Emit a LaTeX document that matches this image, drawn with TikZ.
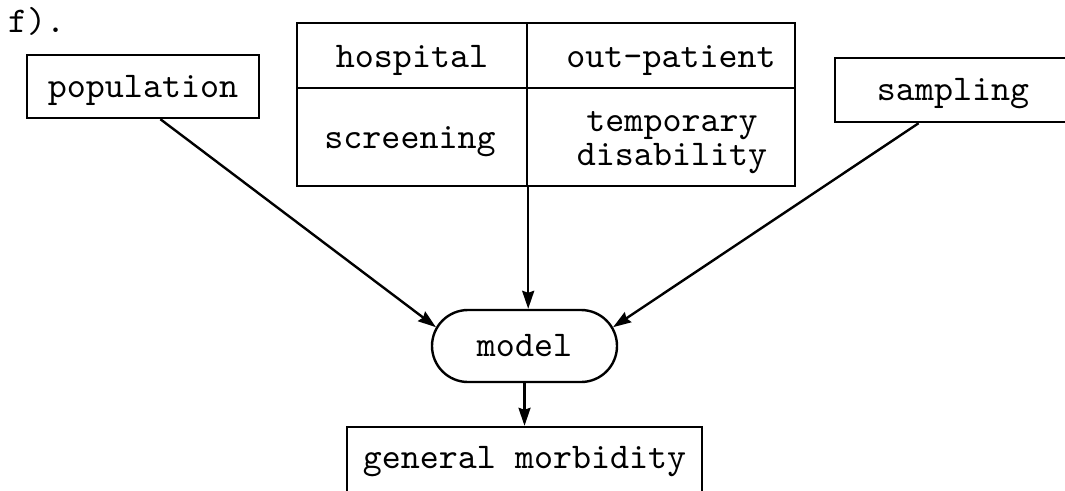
\documentclass[tikz,border=0pt]{standalone}
\usepackage{fontspec}
\newfontfamily\twfont{lmmono10-regular.otf}
\usetikzlibrary{arrows.meta,shapes.misc}
\begin{document}
\begin{tikzpicture}[x=1pt,y=-1pt,
  every node/.style={font=\twfont\fontsize{36.2}{34}\selectfont},
  box/.style={draw,line width=2.4pt,rectangle,inner sep=0pt,text height=21pt,text depth=0pt},
  cell/.style={draw,line width=2.4pt,rectangle,inner sep=0pt},
  txt/.style={inner sep=0pt,anchor=base},
  arr/.style={line width=2.4pt,-{Stealth[length=18pt,width=12pt,inset=2pt]}}
]
\useasboundingbox (0,0) rectangle (1065,490);
\fill[white] (0,0) rectangle (1065,490);

\node[txt,anchor=base west] (flabel) at (8,32) {f).};

\node[box,minimum width=232pt,minimum height=63pt] (pop) at (143,86.5) {population};
\node[box,minimum width=236pt,minimum height=64pt] (samp) at (953,90) {sampling};

\node[cell,minimum width=230pt,minimum height=65pt] (hosp) at (412,55.5) {};
\node[cell,minimum width=268pt,minimum height=65pt] (outp) at (661,55.5) {};
\node[cell,minimum width=230pt,minimum height=98pt] (scr) at (412,137) {};
\node[cell,minimum width=268pt,minimum height=98pt] (temp) at (661,137) {};
\node[txt] (hosptxt) at (412,67) {hospital};
\node[txt] (outptxt) at (671,67) {out-patient};
\node[txt] (scrtxt) at (410,148) {screening};
\node[txt] (temptxt1) at (672,131) {temporary};
\node[txt] (temptxt2) at (672,165) {disability};

\node[draw,line width=2.4pt,rounded rectangle,inner sep=0pt,minimum width=185pt,minimum height=72pt,text height=21pt,text depth=0pt] (model) at (524.5,346) {model};

\node[box,minimum width=355pt,minimum height=76pt,text depth=14pt] (gm) at (524.5,465) {general morbidity};

\draw[arr] (pop.-62) -- (model.168);
\draw[arr] (samp.224) -- (model.12);
\draw[arr] (scr.south east) -- (scr.south east |- model.north);
\draw[arr] (model.south) -- (gm.north);
\end{tikzpicture}
\end{document}
